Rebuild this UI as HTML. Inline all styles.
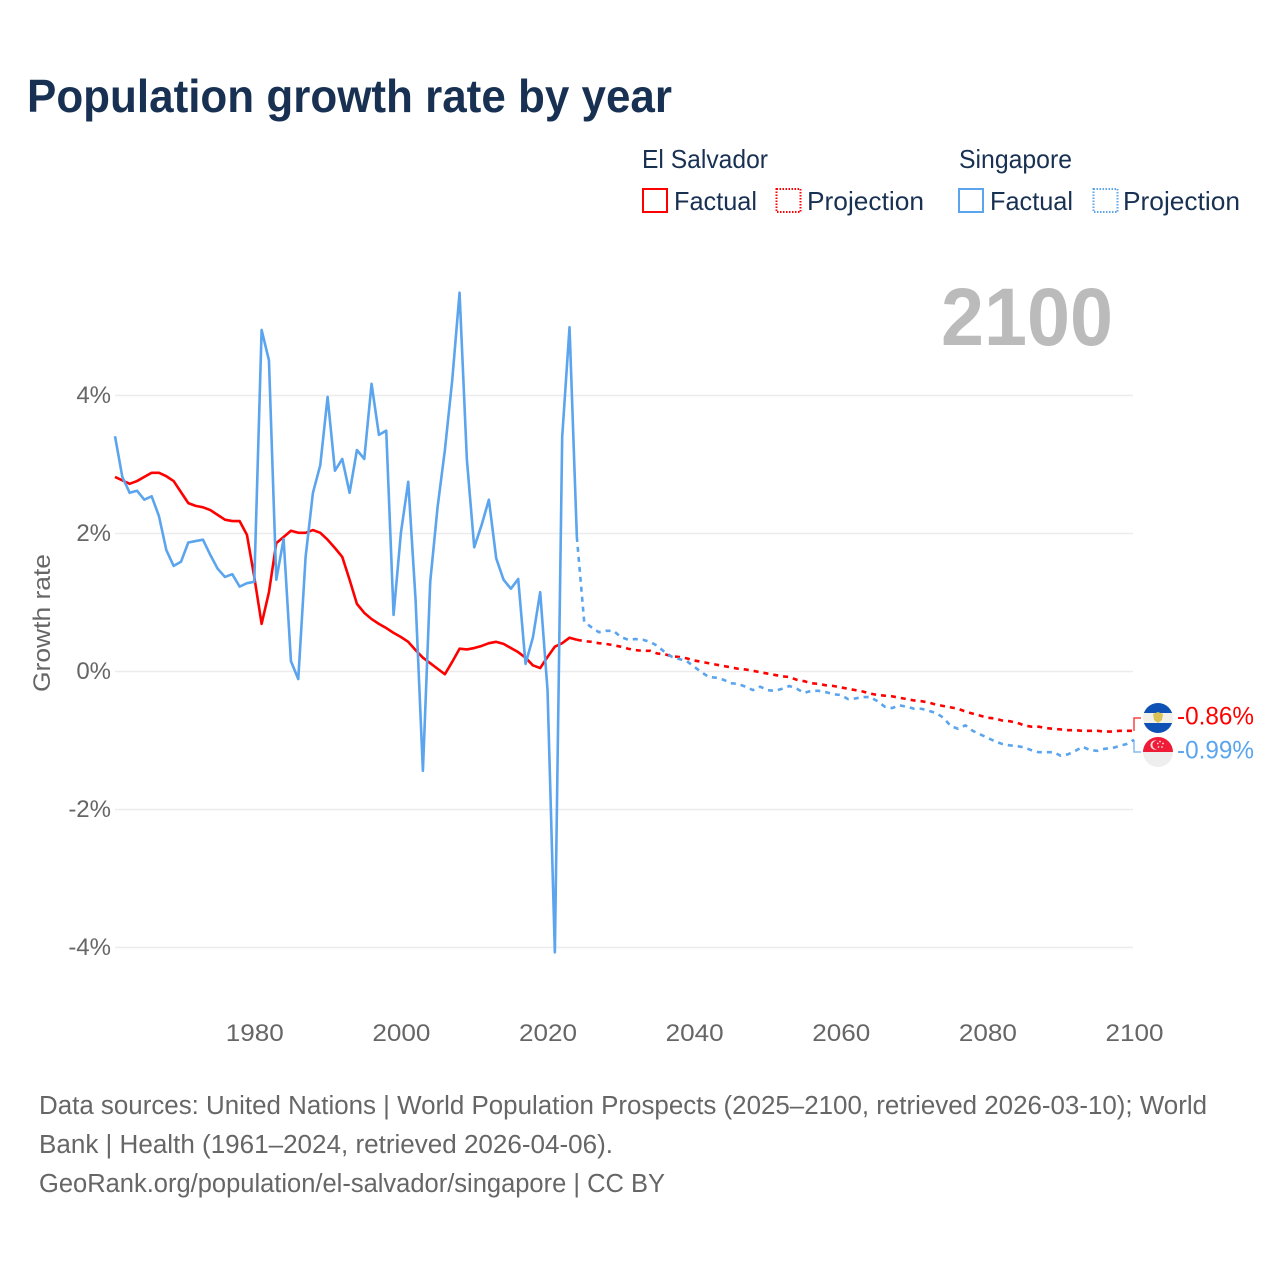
<!DOCTYPE html>
<html lang="en">
<head>
<meta charset="utf-8">
<title>Population growth rate by year</title>
<style>
  html, body { margin: 0; padding: 0; background: #fff; }
  svg { display: block; font-family: "Liberation Sans", sans-serif; }
</style>
</head>
<body>
<svg id="chart" xmlns="http://www.w3.org/2000/svg" width="1280" height="1280" viewBox="0 0 1280 1280">
  <defs>
    <clipPath id="clip-es"><circle cx="1158" cy="718" r="15"/></clipPath>
    <clipPath id="clip-sg"><circle cx="1158" cy="752" r="15"/></clipPath>
  </defs>
  <rect width="1280" height="1280" fill="#ffffff"/>

  <text x="27" y="112" font-size="46" font-weight="700" fill="#183153" textLength="645" lengthAdjust="spacingAndGlyphs">Population growth rate by year</text>

  <g font-size="26" fill="#183153">
    <text x="642" y="168" textLength="126" lengthAdjust="spacingAndGlyphs">El Salvador</text>
    <text x="959" y="168" textLength="113" lengthAdjust="spacingAndGlyphs">Singapore</text>
    <rect x="643" y="189" width="24" height="23" fill="none" stroke="#ff0000" stroke-width="2"/>
    <text x="674" y="210" textLength="83" lengthAdjust="spacingAndGlyphs">Factual</text>
    <rect x="776.5" y="189" width="24" height="23" fill="none" stroke="#ff0000" stroke-width="2" stroke-dasharray="1.5 1.5"/>
    <text x="807" y="210" textLength="117" lengthAdjust="spacingAndGlyphs">Projection</text>
    <rect x="959" y="189" width="24" height="23" fill="none" stroke="#5ba4ee" stroke-width="2"/>
    <text x="990" y="210" textLength="83" lengthAdjust="spacingAndGlyphs">Factual</text>
    <rect x="1093.5" y="189" width="24" height="23" fill="none" stroke="#5ba4ee" stroke-width="2" stroke-dasharray="1.5 1.5"/>
    <text x="1123" y="210" textLength="117" lengthAdjust="spacingAndGlyphs">Projection</text>
  </g>

  <text x="941" y="345" font-size="82" font-weight="700" fill="#bbbbbb" textLength="172" lengthAdjust="spacingAndGlyphs">2100</text>

  <text transform="translate(50,623) rotate(-90)" text-anchor="middle" font-size="24.5" fill="#666666" textLength="138" lengthAdjust="spacingAndGlyphs">Growth rate</text>

  <g id="grid"></g>
  <g id="y-ticks"></g>
  <g id="x-ticks"></g>
  <g id="series"></g>

  <g clip-path="url(#clip-es)">
    <rect x="1143" y="703" width="30" height="10" fill="#0f52b5"/>
    <rect x="1143" y="713" width="30" height="10" fill="#f1f1ea"/>
    <rect x="1143" y="723" width="30" height="10" fill="#0f52b5"/>
    <path d="M1153 714 L1158 712 L1163 714 L1162 720 L1158 723 L1154 720 Z" fill="#d9c356"/>
  </g>
  <g clip-path="url(#clip-sg)">
    <rect x="1143" y="737" width="30" height="15" fill="#ee1c36"/>
    <rect x="1143" y="752" width="30" height="15" fill="#eeeeee"/>
    <circle cx="1155" cy="745" r="4.6" fill="#f6e0e2"/>
    <circle cx="1156.6" cy="745" r="4.2" fill="#ee1c36"/>
    <circle cx="1160" cy="741.5" r="0.9" fill="#f6e0e2"/>
    <circle cx="1163" cy="743.5" r="0.9" fill="#f6e0e2"/>
    <circle cx="1162" cy="747" r="0.9" fill="#f6e0e2"/>
    <circle cx="1158.5" cy="747" r="0.9" fill="#f6e0e2"/>
    <circle cx="1157.8" cy="743.5" r="0.9" fill="#f6e0e2"/>
  </g>

  <text x="1177" y="724.5" font-size="25" fill="#ff0000" textLength="77" lengthAdjust="spacingAndGlyphs">-0.86%</text>
  <text x="1177" y="758.5" font-size="25" fill="#5ba4ee" textLength="77" lengthAdjust="spacingAndGlyphs">-0.99%</text>

  <g font-size="25.5" fill="#666666">
    <text x="39" y="1114" textLength="1168" lengthAdjust="spacingAndGlyphs">Data sources: United Nations | World Population Prospects (2025–2100, retrieved 2026-03-10); World</text>
    <text x="39" y="1153" textLength="574" lengthAdjust="spacingAndGlyphs">Bank | Health (1961–2024, retrieved 2026-04-06).</text>
    <text x="39" y="1192" textLength="626" lengthAdjust="spacingAndGlyphs">GeoRank.org/population/el-salvador/singapore | CC BY</text>
  </g>
</svg>

<script>
const xTickYears = [1980, 2000, 2020, 2040, 2060, 2080, 2100];
const yTickValues = [4, 2, 0, -2, -4];
const factualStartYear = 1961;
const projectionStartYear = 2024;

const elSalvadorFactual = [
  2.82, 2.77, 2.72, 2.76, 2.82, 2.88, 2.88, 2.83, 2.76, 2.60,
  2.44, 2.40, 2.38, 2.34, 2.27, 2.20, 2.18, 2.18, 1.98, 1.37,
  0.69, 1.15, 1.86, 1.95, 2.04, 2.01, 2.01, 2.05, 2.01, 1.91,
  1.79, 1.66, 1.33, 0.98, 0.85, 0.76, 0.69, 0.63, 0.56, 0.50,
  0.43, 0.31, 0.20, 0.12, 0.04, -0.04, 0.14, 0.33, 0.32, 0.34,
  0.37, 0.41, 0.43, 0.40, 0.34, 0.28, 0.20, 0.09, 0.05, 0.21,
  0.36, 0.41, 0.49, 0.46
];
const elSalvadorProjection = [
  0.46, 0.44, 0.43, 0.41, 0.40, 0.38,
  0.36, 0.33, 0.31, 0.30, 0.30, 0.26, 0.25, 0.22, 0.21, 0.19,
  0.16, 0.14, 0.12, 0.10, 0.08, 0.06, 0.04, 0.03, 0.01, -0.01,
  -0.03, -0.05, -0.07, -0.08, -0.12, -0.14, -0.17, -0.18, -0.20, -0.21,
  -0.23, -0.25, -0.27, -0.29, -0.32, -0.34, -0.35, -0.36, -0.38, -0.40,
  -0.42, -0.43, -0.45, -0.48, -0.50, -0.52, -0.54, -0.58, -0.61, -0.64,
  -0.67, -0.68, -0.71, -0.72, -0.74, -0.78, -0.80, -0.80, -0.82, -0.83,
  -0.84, -0.85, -0.85, -0.86, -0.86, -0.86, -0.87, -0.87, -0.86, -0.86,
  -0.86
];
const singaporeFactual = [
  3.41, 2.82, 2.59, 2.62, 2.49, 2.54, 2.25, 1.76, 1.53, 1.59,
  1.87, 1.89, 1.91, 1.69, 1.49, 1.37, 1.41, 1.23, 1.28, 1.30,
  4.95, 4.51, 1.33, 1.92, 0.15, -0.11, 1.66, 2.59, 2.99, 3.98,
  2.91, 3.08, 2.59, 3.21, 3.08, 4.17, 3.43, 3.49, 0.82, 2.01,
  2.75, 1.04, -1.44, 1.30, 2.38, 3.21, 4.22, 5.49, 3.07, 1.80,
  2.12, 2.49, 1.64, 1.33, 1.20, 1.34, 0.11, 0.49, 1.15, -0.27,
  -4.07, 3.40, 4.99, 1.95
];
const singaporeProjection = [
  1.95, 0.72, 0.64, 0.57, 0.59, 0.59,
  0.50, 0.46, 0.47, 0.46, 0.43, 0.37, 0.28, 0.21, 0.18, 0.15,
  0.07, -0.01, -0.08, -0.09, -0.12, -0.17, -0.18, -0.22, -0.27, -0.22,
  -0.27, -0.28, -0.25, -0.21, -0.25, -0.31, -0.28, -0.28, -0.30, -0.33,
  -0.34, -0.40, -0.39, -0.37, -0.37, -0.43, -0.51, -0.53, -0.49, -0.51,
  -0.54, -0.54, -0.57, -0.60, -0.67, -0.79, -0.83, -0.78, -0.86, -0.91,
  -0.96, -1.01, -1.05, -1.07, -1.08, -1.10, -1.14, -1.17, -1.17, -1.17,
  -1.22, -1.20, -1.15, -1.09, -1.14, -1.15, -1.12, -1.11, -1.08, -1.05,
  -0.99
];

const SVG_NS = 'http://www.w3.org/2000/svg';
const RED = '#ff0000';
const BLUE = '#5ba4ee';

function xScale(year) { return 115 + (year - 1961) * (1134 - 115) / (2100 - 1961); }
function yScale(value) { return 671.5 - value * 69; }

function linePath(startYear, values) {
  return values.map(function (v, i) {
    return (i ? 'L' : 'M') + xScale(startYear + i).toFixed(2) + ' ' + yScale(v).toFixed(2);
  }).join(' ');
}

const grid = document.getElementById('grid');
const yTicks = document.getElementById('y-ticks');
const xTicks = document.getElementById('x-ticks');
const series = document.getElementById('series');

yTickValues.forEach(function (v) {
  const line = document.createElementNS(SVG_NS, 'line');
  
  
  line.setAttribute('x1', 115);
  line.setAttribute('x2', 1133);
  line.setAttribute('y1', yScale(v));
  line.setAttribute('y2', yScale(v));
  line.setAttribute('stroke', '#ececec');
  line.setAttribute('stroke-width', 1.5);
  grid.appendChild(line);

  const label = document.createElementNS(SVG_NS, 'text');
  
  
  label.setAttribute('x', 111);
  label.setAttribute('y', yScale(v) + 7.5);
  label.setAttribute('text-anchor', 'end');
  label.setAttribute('font-size', 24);
  label.setAttribute('fill', '#666666');
  label.textContent = v + '%';
  yTicks.appendChild(label);
});

xTickYears.forEach(function (year) {
  const label = document.createElementNS(SVG_NS, 'text');
  
  
  label.setAttribute('x', xScale(year) + 0.5);
  label.setAttribute('y', 1041);
  label.setAttribute('text-anchor', 'middle');
  label.setAttribute('font-size', 24);
  label.setAttribute('fill', '#666666');
  label.setAttribute('textLength', 58);
  label.setAttribute('lengthAdjust', 'spacingAndGlyphs');
  label.textContent = year;
  xTicks.appendChild(label);
});

function addSeries(name, d, color, dashed) {
  const path = document.createElementNS(SVG_NS, 'path');
  
  
  path.setAttribute('d', d);
  path.setAttribute('fill', 'none');
  path.setAttribute('stroke', color);
  path.setAttribute('stroke-width', 2.6);
  path.setAttribute('stroke-linejoin', 'round');
  if (dashed) {
    path.setAttribute('stroke-dasharray', '5 5');
  }
  series.appendChild(path);
}

function addConnector(name, lastValue, flagY, color) {
  const x = xScale(2100);
  const path = document.createElementNS(SVG_NS, 'path');
  
  
  path.setAttribute('d', 'M' + x + ' ' + yScale(lastValue) + ' L' + x + ' ' + flagY + ' L' + (x + 7) + ' ' + flagY);
  path.setAttribute('fill', 'none');
  path.setAttribute('stroke', color);
  path.setAttribute('stroke-width', 1.5);
  path.setAttribute('opacity', 0.75);
  series.appendChild(path);
}

addSeries('el-salvador-factual-line', linePath(factualStartYear, elSalvadorFactual), RED, false);
addSeries('el-salvador-projection-line', linePath(projectionStartYear, elSalvadorProjection), RED, true);
addSeries('singapore-factual-line', linePath(factualStartYear, singaporeFactual), BLUE, false);
addSeries('singapore-projection-line', linePath(projectionStartYear, singaporeProjection), BLUE, true);
addConnector('el-salvador-end-connector', elSalvadorProjection[elSalvadorProjection.length - 1], 718, RED);
addConnector('singapore-end-connector', singaporeProjection[singaporeProjection.length - 1], 752, BLUE);
</script>
</body>
</html>
